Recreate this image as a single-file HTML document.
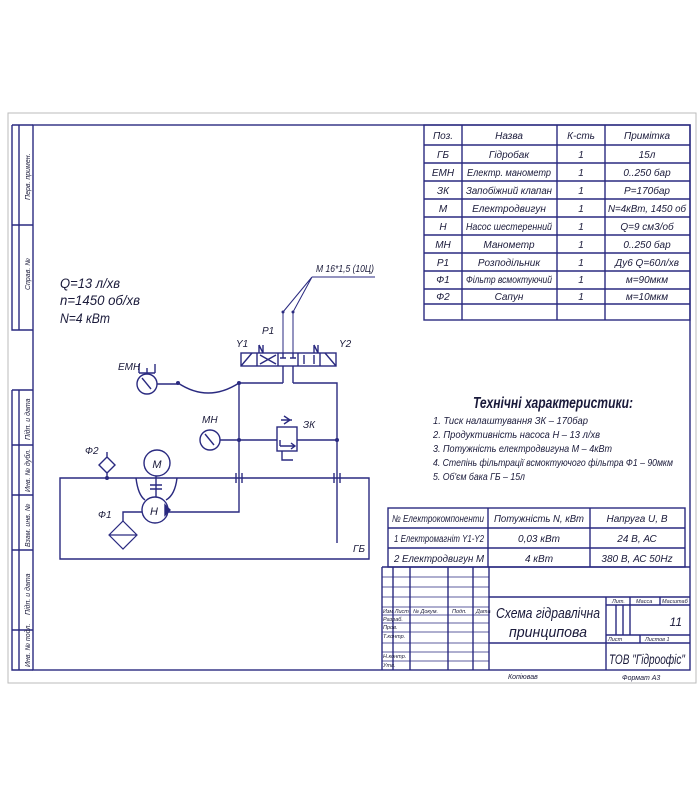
<!DOCTYPE html>
<html><head><meta charset="utf-8"><style>
body{margin:0;background:#fff}
svg text{font-family:"Liberation Sans","DejaVu Sans",sans-serif;font-style:italic;fill:#1a1a3a}
</style></head><body>
<svg width="700" height="800" viewBox="0 0 700 800" xmlns="http://www.w3.org/2000/svg">
<rect x="0" y="0" width="700" height="800" fill="#fff"/>
<path d="M8 113 H696 V683 H8 Z" fill="none" stroke="#bbb" stroke-width="1"/>
<g stroke="#2a2a80" fill="none" stroke-width="1.4">
<rect x="33" y="125" width="657" height="545"/>
<path d="M12 125 H33 M12 125 V330 H33 M12 225 H33 M19 125 V330"/>
<path d="M12 390 H33 M12 390 V670 H33 M12 445 H33 M12 495 H33 M12 550 H33 M12 630 H33 M19 390 V670"/>
<rect x="424" y="125" width="266" height="195"/>
<path d="M462 125 V320 M557 125 V320 M605 125 V320"/>
<path d="M424 145 H690 M424 163 H690 M424 181 H690 M424 199 H690 M424 217 H690 M424 235 H690 M424 253 H690 M424 271 H690 M424 289 H690 M424 304 H690"/>
<rect x="388" y="508" width="297" height="59"/>
<path d="M488 508 V567 M590 508 V567 M388 528 H685 M388 548 H685"/>
<path d="M382 567 H690 M382 567 V670 M393 567 V670 M410 567 V670 M448 567 V670 M473 567 V670 M489 567 V670"/>
<path d="M382 577 H489 M382 587 H489 M382 597 H489 M382 607 H489 M382 615 H489 M382 623 H489 M382 632 H489 M382 643 H489 M382 652 H489 M382 661 H489" stroke-width="0.7"/>
<path d="M489 597 H690 M489 643 H690 M606 597 V670 M606 605 H690 M606 635 H690 M606 643 H690 M630 597 V635 M660 597 V605 M640 635 V643 M616 605 V635 M623 605 V635"/>
</g>
<g font-size="7" fill="#444">
<text transform="translate(30,200) rotate(-90)">Перв. примен.</text>
<text transform="translate(30,290) rotate(-90)">Справ. №</text>
<text transform="translate(30,440) rotate(-90)">Підп. и дата</text>
<text transform="translate(30,492) rotate(-90)">Инв. № дубл.</text>
<text transform="translate(30,547) rotate(-90)">Взам. инв. №</text>
<text transform="translate(30,615) rotate(-90)">Підп. и дата</text>
<text transform="translate(30,667) rotate(-90)">Инв. № подл.</text>
</g>
<g font-size="10" text-anchor="middle">
<text x="443" y="139">Поз.</text><text x="509" y="139">Назва</text><text x="581" y="139">К-сть</text><text x="647" y="139">Примітка</text>
<text x="443" y="158">ГБ</text><text x="509" y="158">Гідробак</text><text x="581" y="158">1</text><text x="647" y="158">15л</text>
<text x="443" y="176">ЕМН</text><text x="509" y="176" textLength="84" lengthAdjust="spacingAndGlyphs">Електр. манометр</text><text x="581" y="176">1</text><text x="647" y="176">0..250 бар</text>
<text x="443" y="194">ЗК</text><text x="509" y="194" textLength="86" lengthAdjust="spacingAndGlyphs">Запобіжний клапан</text><text x="581" y="194">1</text><text x="647" y="194">P=170бар</text>
<text x="443" y="212">М</text><text x="509" y="212">Електродвигун</text><text x="581" y="212">1</text><text x="647" y="212" textLength="78" lengthAdjust="spacingAndGlyphs">N=4кВт, 1450 об</text>
<text x="443" y="230">Н</text><text x="509" y="230" textLength="86" lengthAdjust="spacingAndGlyphs">Насос шестеренний</text><text x="581" y="230">1</text><text x="647" y="230">Q=9 см3/об</text>
<text x="443" y="248">МН</text><text x="509" y="248">Манометр</text><text x="581" y="248">1</text><text x="647" y="248">0..250 бар</text>
<text x="443" y="266">Р1</text><text x="509" y="266">Розподільник</text><text x="581" y="266">1</text><text x="647" y="266">Ду6 Q=60л/хв</text>
<text x="443" y="283">Ф1</text><text x="509" y="283" textLength="86" lengthAdjust="spacingAndGlyphs">Фільтр всмоктуючий</text><text x="581" y="283">1</text><text x="647" y="283">м=90мкм</text>
<text x="443" y="300">Ф2</text><text x="509" y="300">Сапун</text><text x="581" y="300">1</text><text x="647" y="300">м=10мкм</text>
</g>
<g font-size="10">
<text x="392" y="522" textLength="92" lengthAdjust="spacingAndGlyphs">№  Електрокомпоненти</text>
<text x="539" y="522" text-anchor="middle" textLength="90" lengthAdjust="spacingAndGlyphs">Потужність N, кВт</text>
<text x="637" y="522" text-anchor="middle">Напруга U, В</text>
<text x="394" y="542" textLength="90" lengthAdjust="spacingAndGlyphs">1  Електромагніт Y1-Y2</text>
<text x="539" y="542" text-anchor="middle">0,03 кВт</text>
<text x="637" y="542" text-anchor="middle">24 В,  АС</text>
<text x="394" y="562" textLength="90" lengthAdjust="spacingAndGlyphs">2  Електродвигун М</text>
<text x="539" y="562" text-anchor="middle">4 кВт</text>
<text x="637" y="562" text-anchor="middle">380 В, АС 50Hz</text>
</g>
<g font-size="5.5" fill="#333">
<text x="383" y="613">Изм Лист</text><text x="413" y="613">№ Докум.</text><text x="452" y="613">Подп.</text><text x="476" y="613">Дата</text>
<text x="383" y="621">Разраб.</text><text x="383" y="629">Пров.</text><text x="383" y="638">Т.контр.</text>
<text x="383" y="658">Н.контр.</text><text x="383" y="667">Утв.</text>
<text x="612" y="603">Лит.</text><text x="636" y="603">Масса</text><text x="662" y="603">Масштаб</text>
<text x="608" y="641">Лист</text><text x="645" y="641">Листов   1</text>
</g>
<text x="548" y="618" font-size="15" text-anchor="middle" textLength="104" lengthAdjust="spacingAndGlyphs">Схема гідравлічна</text>
<text x="548" y="637" font-size="15" text-anchor="middle" textLength="78" lengthAdjust="spacingAndGlyphs">принципова</text>
<text x="682" y="626" font-size="12" text-anchor="end">11</text>
<text x="647" y="664" font-size="14" text-anchor="middle" textLength="76" lengthAdjust="spacingAndGlyphs">ТОВ "Гідроофіс"</text>
<text x="508" y="679" font-size="7" fill="#555">Копіював</text>
<text x="622" y="680" font-size="7" fill="#555">Формат   А3</text>
<text x="473" y="408" font-size="16" font-weight="bold" textLength="160" lengthAdjust="spacingAndGlyphs">Технічні характеристики:</text>
<g font-size="10.5">
<text x="433" y="424" textLength="155" lengthAdjust="spacingAndGlyphs">1. Тиск налаштування  ЗК   – 170бар</text>
<text x="433" y="438" textLength="167" lengthAdjust="spacingAndGlyphs">2. Продуктивність насоса  Н  – 13 л/хв</text>
<text x="433" y="452" textLength="179" lengthAdjust="spacingAndGlyphs">3. Потужність електродвигуна  М  – 4кВт</text>
<text x="433" y="466" textLength="240" lengthAdjust="spacingAndGlyphs">4. Степінь фільтрації всмоктуючого фільтра Ф1 – 90мкм</text>
<text x="433" y="480" textLength="92" lengthAdjust="spacingAndGlyphs">5. Об'єм бака ГБ – 15л</text>
</g>
<g font-size="14">
<text x="60" y="288" textLength="60" lengthAdjust="spacingAndGlyphs">Q=13 л/хв</text>
<text x="60" y="305" textLength="80" lengthAdjust="spacingAndGlyphs">n=1450 об/хв</text>
<text x="60" y="323" textLength="50" lengthAdjust="spacingAndGlyphs">N=4 кВт</text>
</g>
<g stroke="#2a2a80" fill="none" stroke-width="1.4">
<rect x="241" y="353" width="95" height="13"/>
<path d="M257 353 V366 M278 353 V366 M298 353 V366 M320 353 V366"/>
<path d="M241 366 L252 353 M336 366 L325 353"/>
<path d="M259 345 V353 M263 345 V353 M259 345 L263 353 M314 345 V353 M318 345 V353 M314 345 L318 353"/>
<path d="M260 364 L276 355 M260 355 L276 364 M304 364 V355 M314 355 V364"/>
<path d="M283 353 V358 M293 353 V358 M280 358 H286 M290 358 H296"/>
<path d="M283 366 V383 M293 366 V383"/>
<path d="M283 353 V312 M293 353 V312 M283 312 L312 277 M293 312 L312 277 M312 277 H375" stroke-width="1"/>
<path d="M283 383 H239 V512 H168 M293 383 H337 V543"/>
<path d="M178 383 Q208 403 239 383"/>
<path d="M157 384 H178"/>
<circle cx="147" cy="384" r="10"/>
<path d="M142 378 L151 389"/>
<path d="M139 364 V373 M155 364 V373 M139 373 H155 M147 368 V374"/>
<circle cx="210" cy="440" r="10"/>
<path d="M205 434 L214 445"/>
<path d="M220 440 H277 M297 440 H337"/>
<rect x="277" y="427" width="20" height="24"/>
<path d="M280 446 H295 M291 443 L295 446 L291 449 M280 446 V440 M282 451 V460 H293 M281 420 L292 420 M284 424 L290 420 L284 416"/>
<path d="M60 478 H369 V559 H60 Z"/>
<path d="M236 473 V483 M242 473 V483 M334 473 V483 M340 473 V483" />
<circle cx="157" cy="463" r="13"/>
<circle cx="155" cy="510" r="13"/>
<path d="M156 476 V497 M150 485 H162 M150 489 H162"/>
<path d="M136 478 Q138 495 145 500 M177 478 Q175 495 166 500"/>
<path d="M165 505 L170 510 L165 515 Z" fill="#2a2a80"/>
<path d="M107 457 L115 465 L107 473 L99 465 Z M107 478 V473 M107 457 V452"/>
<path d="M123 521 L137 535 L123 549 L109 535 Z M110 535 H136" stroke-width="1.2"/>
<path d="M123 521 V512 H142"/>
</g>
<g fill="#2a2a80">
<circle cx="239" cy="383" r="2"/><circle cx="178" cy="383" r="2"/><circle cx="239" cy="440" r="2"/><circle cx="337" cy="440" r="2"/><circle cx="107" cy="478" r="2"/><circle cx="283" cy="312" r="1.5"/><circle cx="293" cy="312" r="1.5"/>
</g>
<g font-size="10">
<text x="316" y="272" textLength="58" lengthAdjust="spacingAndGlyphs">М 16*1,5 (10Ц)</text>
<text x="236" y="347">Y1</text><text x="262" y="334">Р1</text><text x="339" y="347">Y2</text>
<text x="118" y="370">ЕМН</text><text x="202" y="423">МН</text><text x="303" y="428">ЗК</text>
<text x="85" y="454">Ф2</text><text x="98" y="518">Ф1</text><text x="353" y="552">ГБ</text>
<text x="157" y="468" font-size="11" text-anchor="middle">М</text><text x="154" y="515" font-size="11" text-anchor="middle">Н</text>
</g>
</svg>
</body></html>
